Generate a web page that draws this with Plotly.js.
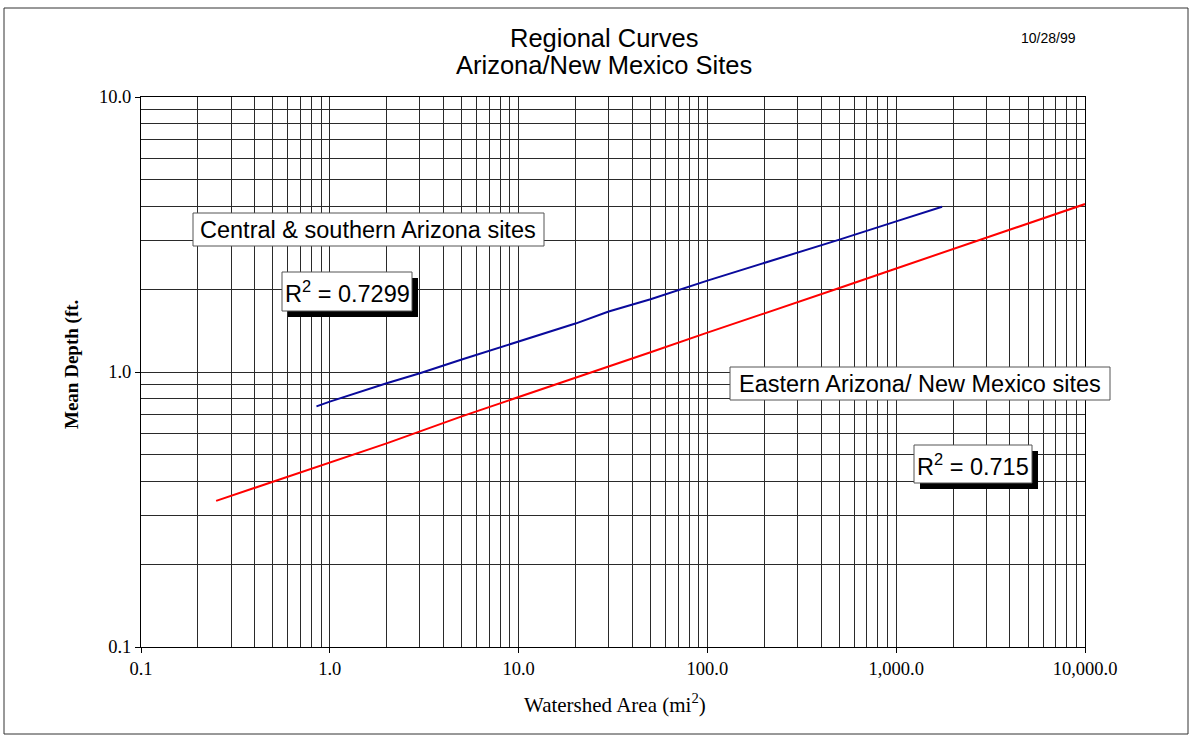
<!DOCTYPE html>
<html>
<head>
<meta charset="utf-8">
<script src="https://cdn.plot.ly/plotly-3.0.1.min.js"></script>
<style>
  html, body { margin: 0; padding: 0; background: #fff; }
  #chart { width: 1193px; height: 740px; }
</style>
</head>
<body>
<div id="chart"></div>
<script>
// Regional curve trendlines: mean depth vs. watershed area
const centralArea  = [0.85, 1, 2, 3, 5, 10, 20, 30, 50, 100, 200, 300, 500, 1000, 1750];
const centralDepth = [0.75, 0.78, 0.91, 0.99, 1.11, 1.29, 1.50, 1.66, 1.84, 2.15, 2.49, 2.72, 3.03, 3.53, 3.99];

const easternArea  = [0.25, 0.5, 1, 2, 5, 10, 20, 50, 100, 200, 500, 1000, 2000, 5000, 10000];
const easternDepth = [0.34, 0.40, 0.47, 0.55, 0.69, 0.81, 0.95, 1.18, 1.39, 1.63, 2.02, 2.38, 2.80, 3.47, 4.08];

const xTickVals = [0.1, 1, 10, 100, 1000, 10000];
const xTickText = ['0.1', '1.0', '10.0', '100.0', '1,000.0', '10,000.0'];
const yTickVals = [0.1, 1, 10];
const yTickText = ['0.1', '1.0', '10.0'];

const centralName = 'Central & southern Arizona sites';
const easternName = 'Eastern Arizona/ New Mexico sites';
const centralR2 = 'R<sup>2</sup> = 0.7299';
const easternR2 = 'R<sup>2</sup> = 0.715';

// minor gridline positions (2..9 in each decade)
function minorVals(lo, hi) {
  const out = [];
  for (let d = lo; d < hi; d *= 10) {
    for (let k = 2; k <= 9; k++) out.push(d * k);
  }
  return out;
}

// plot area in pixels
const W = 1193, H = 740;
const L = 141, R = 1085, T = 97, B = 647;
const px = v => (v - L) / (R - L);
const py = v => (B - v) / (B - T);

const gridColor = '#2a2a2a';
const sans = 'Liberation Sans, Arial, sans-serif';
const serif = 'Liberation Serif, Times New Roman, serif';

const traces = [
  { x: centralArea, y: centralDepth, type: 'scatter', mode: 'lines',
    line: { color: '#0a0a9c', width: 2 }, name: centralName, showlegend: false },
  { x: easternArea, y: easternDepth, type: 'scatter', mode: 'lines',
    line: { color: '#ff0000', width: 2 }, name: easternName, showlegend: false }
];

function box(x0, y0, x1, y1, shadow) {
  const s = [];
  if (shadow) {
    s.push({ type: 'rect', xref: 'paper', yref: 'paper', layer: 'above',
      x0: px(x0 + 6), x1: px(x1 + 6), y0: py(y0 + 6), y1: py(y1 + 6),
      fillcolor: '#000', line: { width: 0 } });
  }
  s.push({ type: 'rect', xref: 'paper', yref: 'paper', layer: 'above',
    x0: px(x0), x1: px(x1), y0: py(y0), y1: py(y1),
    fillcolor: '#fff', line: { color: '#555', width: 1 } });
  return s;
}

const shapes = [].concat(
  // outer frame
  [{ type: 'rect', xref: 'paper', yref: 'paper', layer: 'below',
     x0: px(4), x1: px(1188), y0: py(8), y1: py(734),
     line: { color: '#333', width: 1 } }],
  box(193, 213, 544, 246, false),
  box(282, 272, 412, 311, true),
  box(730, 367, 1110, 400, false),
  box(914, 445, 1032, 483, true)
);

function label(text, cx, cy, size, font, extra) {
  return Object.assign({ text: text, xref: 'paper', yref: 'paper',
    x: px(cx), y: py(cy), xanchor: 'center', yanchor: 'middle',
    showarrow: false, font: { family: font, size: size, color: '#000' } }, extra || {});
}

const annotations = [
  label('Regional Curves', 604, 38, 25.5, sans),
  label('Arizona/New Mexico Sites', 604, 65, 25.5, sans),
  label('10/28/99', 1048, 38, 14, sans),
  label(centralName, 368, 230, 23.5, sans),
  label(centralR2, 347, 292, 23.5, sans),
  label(easternName, 920, 384, 23.5, sans),
  label(easternR2, 973, 465, 23.5, sans),
  label('Watershed Area (mi<sup>2</sup>)', 615, 704, 21, serif),
  label('<b>Mean Depth (ft.</b>', 72, 365, 19, serif, { textangle: -90 })
];

const axisCommon = {
  type: 'log',
  showgrid: true, gridcolor: gridColor, gridwidth: 1,
  showline: true, linecolor: '#000', linewidth: 1, mirror: true,
  ticks: 'outside', ticklen: 5, tickcolor: '#000',
  tickfont: { family: serif, size: 18.5, color: '#000' },
  zeroline: false, fixedrange: true
};

const layout = {
  width: W, height: H,
  margin: { l: L, r: W - R, t: T, b: H - B, pad: 0 },
  paper_bgcolor: '#fff', plot_bgcolor: '#fff',
  showlegend: false,
  xaxis: Object.assign({}, axisCommon, {
    range: [-1, 4], tickmode: 'array', tickvals: xTickVals, ticktext: xTickText,
    minor: { tickmode: 'array', tickvals: minorVals(0.1, 10000), showgrid: true,
             gridcolor: gridColor, gridwidth: 1, ticks: '' }
  }),
  yaxis: Object.assign({}, axisCommon, {
    range: [-1, 1], tickmode: 'array', tickvals: yTickVals, ticktext: yTickText,
    minor: { tickmode: 'array', tickvals: minorVals(0.1, 10), showgrid: true,
             gridcolor: gridColor, gridwidth: 1, ticks: '' }
  }),
  shapes: shapes,
  annotations: annotations
};

Plotly.newPlot('chart', traces, layout, { staticPlot: true, displayModeBar: false });
</script>
</body>
</html>
